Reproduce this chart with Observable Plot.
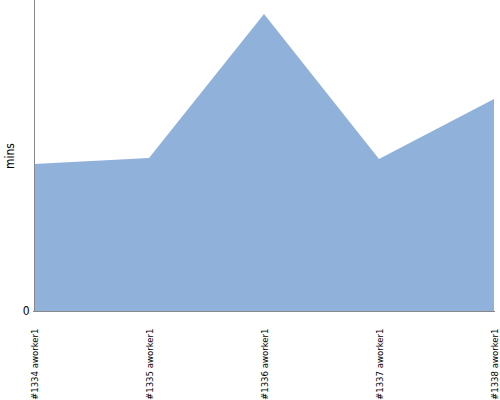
<!DOCTYPE html>
<html>
<head>
<meta charset="utf-8">
<script src="https://cdn.jsdelivr.net/npm/d3@7"></script>
<script src="https://cdn.jsdelivr.net/npm/@observablehq/plot@0.6"></script>
<style>
  body { margin: 0; background: #fff; }
  #chart svg { display: block; }
</style>
</head>
<body>
<div id="chart"></div>
<script>
const categories = ["#1334 aworker1", "#1335 aworker1", "#1336 aworker1", "#1337 aworker1", "#1338 aworker1"];
const minutes = [4.73, 4.92, 9.55, 4.89, 6.82];
const yTicks = [0];

const data = categories.map((c, i) => ({build: c, mins: minutes[i]}));

const chart = Plot.plot({
  width: 500,
  height: 400,
  marginLeft: 33,
  marginRight: 5,
  marginTop: 0,
  marginBottom: 89,
  style: {fontFamily: "'Liberation Sans Narrow', 'DejaVu Sans Condensed', sans-serif", fontSize: "10px", color: "#000", background: "#fff"},
  x: {type: "point", domain: categories, padding: 0, label: null},
  y: {domain: [0, 10], label: "mins"},
  marks: [
    Plot.areaY(data, {x: "build", y: "mins", fill: "#8fb1da", fillOpacity: 1}),
    Plot.ruleY([0], {stroke: "#888"}),
    Plot.ruleX([categories[0]], {stroke: "#888"}),
    Plot.axisX({tickSize: 0, tickRotate: -90, tickPadding: 17, label: null, fontSize: 9.5}),
    Plot.axisY({ticks: yTicks, tickSize: 0, tickPadding: 4, label: "mins", labelAnchor: "center", labelArrow: "none", labelOffset: 28, fontSize: 12})
  ]
});
document.getElementById("chart").appendChild(chart);
</script>
</body>
</html>
